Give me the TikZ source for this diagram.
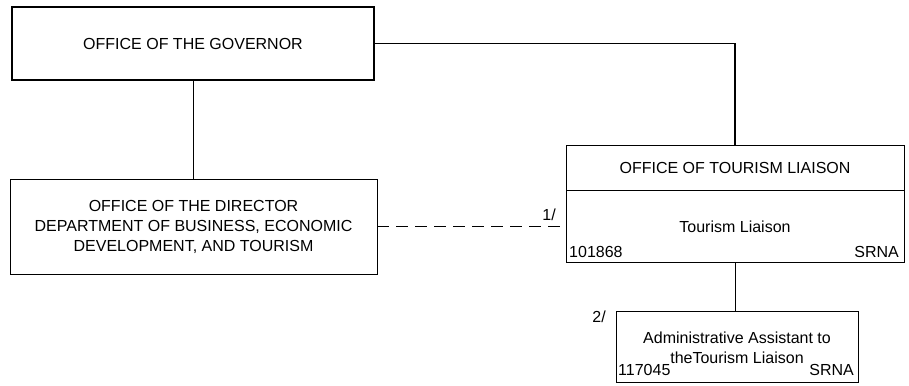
\documentclass[tikz,border=0pt]{standalone}
\usepackage{fontspec}
\setmainfont{Liberation Sans}
\begin{document}
\begin{tikzpicture}[x=1pt,y=-1pt,
  box/.style={draw, line width=0.9pt, inner sep=0pt, align=center, font=\fontsize{16}{20}\selectfont},
  txt/.style={inner sep=0pt, font=\fontsize{16}{20}\selectfont},
  link/.style={line width=0.9pt},
  thicklink/.style={line width=1.6pt},
  dashlink/.style={line width=0.9pt, dash pattern=on 12pt off 7pt}]
\useasboundingbox (0,0) rectangle (909,385);
\node[box, line width=1.4pt, minimum width=362pt, minimum height=73pt] (gov) at (193,43.5) {OFFICE OF THE GOVERNOR};
\node[box, minimum width=367pt, minimum height=95pt] (dir) at (193.5,226.5) {OFFICE OF THE DIRECTOR\\DEPARTMENT OF BUSINESS, ECONOMIC\\DEVELOPMENT, AND TOURISM};
\node[box, minimum width=338pt, minimum height=45pt] (toh) at (735,167.5) {OFFICE OF TOURISM LIAISON};
\node[box, minimum width=338pt, minimum height=72pt, anchor=north] (tob) at (toh.south) {};
\node[txt] (tl) at (735,227) {Tourism Liaison};
\node[txt, anchor=west] (tnum) at (569,252) {101868};
\node[txt, anchor=east] (tsr) at (899,252) {SRNA};
\node[txt, anchor=east] (n1) at (556,215) {1/};
\node[box, minimum width=242pt, minimum height=71pt] (adm) at (737,346.5) {};
\node[txt, align=center] (admt) at (737,348) {Administrative Assistant to\\theTourism Liaison};
\node[txt, anchor=west] (anum) at (618,370) {117045};
\node[txt, anchor=east] (asr) at (854,370) {SRNA};
\node[txt, anchor=east] (n2) at (606,317) {2/};
\draw[link] (gov.south) -- (gov.south |- dir.north);
\draw[thicklink] (gov.east) -| (toh.north);
\draw[dashlink] (dir.east) -- (dir.east -| tob.west);
\draw[link] (tob.south) -- (tob.south |- adm.north);
\end{tikzpicture}
\end{document}
